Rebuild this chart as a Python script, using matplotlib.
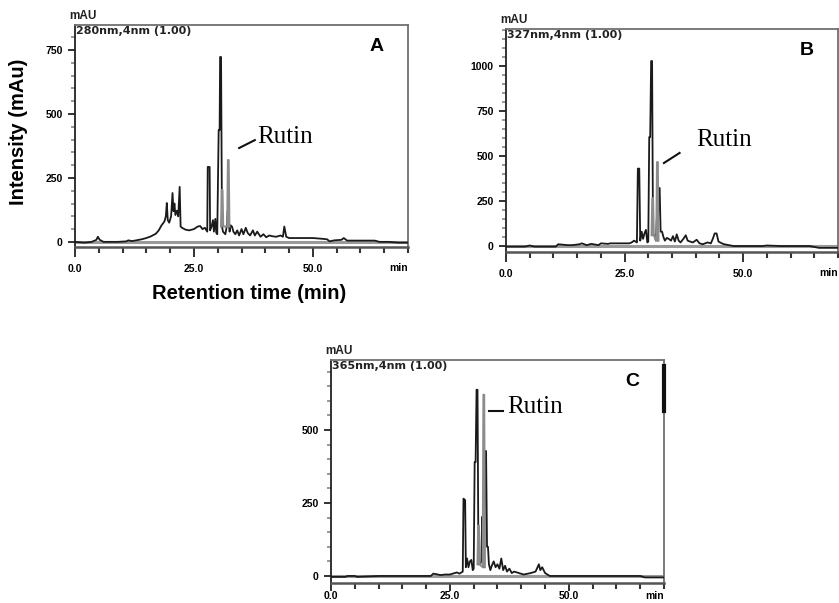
import matplotlib.pyplot as plt
import numpy as np
from matplotlib.ticker import MultipleLocator, FixedLocator

plt.rcParams['font.family'] = ['Liberation Sans', 'DejaVu Sans']

# panel A, 280 nm  (time min, intensity mAU)
a_time = [0, 2, 3.5, 4.5, 4.8, 5.2, 6, 9, 10.8, 11.2, 12, 14, 15, 16, 17, 17.6, 18.2, 18.8,
          19.1, 19.3, 19.5, 19.8, 20.2, 20.5, 20.7, 20.9, 21.1, 21.4, 21.7, 22.0, 22.2, 22.5,
          23.2, 24, 25, 25.8, 26.3, 26.8, 27.3, 27.8, 27.9, 28.3, 28.4, 28.7, 29.0, 29.2, 29.5,
          29.7, 29.9, 30.2, 30.4, 30.5, 30.7, 30.9, 31.1, 31.6, 31.9, 32.1, 32.3, 32.5, 32.7,
          33.0, 33.3, 33.7, 34.1, 34.5, 35.0, 35.4, 35.9, 36.3, 36.8, 37.4, 37.8, 38.3, 39.0,
          39.6, 40.2, 40.8, 41.5, 42.3, 43.2, 43.7, 44.0, 44.4, 45.0, 46, 48, 50, 52, 53, 53.5,
          54.5, 56, 56.5, 57.2, 58, 60, 62, 63, 64, 66, 68, 70]
a_int = [0, -3, 0, 8, 20, 8, 0, 0, 2, 6, 3, 10, 15, 22, 32, 45, 65, 80,
         100, 152, 85, 75, 100, 191, 120, 150, 105, 122, 100, 215, 60, 55,
         48, 45, 50, 60, 62, 50, 55, 40, 293, 293, 45, 60, 85, 40, 90,
         35, 30, 437, 437, 723, 723, 60, 40, 30, 60, 121, 80, 40, 65,
         60, 40, 30, 45, 25, 50, 30, 55, 35, 25, 45, 25, 40, 20,
         30, 18, 25, 22, 20, 25, 20, 60, 20, 15, 15, 15, 15, 12, 10, 2,
         6, 8, 15, 5, 5, 5, 5, 5, 0, 0, -3, -3]
a_grey_time = [30.7, 30.85, 31.0, 31.15, 32.0, 32.15, 32.3, 32.45]
a_grey_int = [60, 203, 203, 60, 60, 320, 320, 60]

# panel B, 327 nm
b_time = [0, 4, 5, 6, 9, 10.5, 11, 13, 14, 15.5, 16, 17, 18, 19.5, 20, 21.5, 22, 25, 26, 26.5,
          27.0, 27.3, 27.6, 27.8, 28.1, 28.3, 28.6, 28.9, 29.2, 29.5, 29.8, 30.0, 30.2, 30.4,
          30.6, 30.8, 31.0, 31.3, 31.6, 31.8, 32.0, 32.2, 32.4, 32.6, 32.9, 33.2, 33.5, 33.9,
          34.3, 34.8, 35.2, 35.6, 36.0, 36.4, 36.8, 37.4, 37.9, 38.3, 38.8, 39.4, 40.2, 40.8,
          41.5, 42.5, 43.2, 43.6, 44.0, 44.4, 44.8, 45.5, 46, 48, 52, 54, 55, 58, 62, 64, 66, 70]
b_int = [-3, -3, 3, -3, -3, -3, 10, 5, 5, 10, 15, 5, 12, 5, 15, 12, 15, 15, 15, 20,
         30, 25, 20, 430, 430, 30, 80, 40, 70, 90, 20, 25, 605, 605,
         1027, 1027, 60, 60, 30, 155, 30, 322, 322, 80, 80, 50, 30, 45,
         40, 30, 55, 25, 65, 30, 20, 40, 60, 30, 25, 20, 35, 15,
         10, 20, 15, 40, 70, 70, 25, 15, 10, 0, 0, 0, 3, 0, 0, 0, -10, -10]
b_grey_time = [30.7, 30.85, 31.0, 31.15, 31.7, 31.85, 32.0, 32.15]
b_grey_int = [60, 265, 265, 60, 30, 466, 466, 30]

# panel C, 365 nm
c_time = [0, 3, 3.5, 5, 5.5, 10, 21, 21.5, 22.5, 23, 24, 25, 26, 26.5, 27, 27.4, 27.7, 27.85,
          28.2, 28.35, 28.6, 28.9, 29.2, 29.5, 29.8, 30.0, 30.2, 30.4, 30.6, 30.8, 31.0, 31.3,
          31.6, 31.8, 32.0, 32.2, 32.4, 32.6, 32.8, 33.0, 33.2, 33.5, 33.8, 34.2, 34.6, 35.0,
          35.4, 35.8, 36.2, 36.6, 37.0, 37.5, 38.0, 38.5, 39.5, 40.5, 42, 43, 43.7, 44.0, 44.4,
          45.0, 46, 48, 55, 60, 65, 66, 70]
c_int = [-3, -3, 0, 0, -3, 0, 0, 8, 5, 3, 5, 5, 10, 12, 8, 12, 15, 265,
         260, 30, 60, 30, 50, 55, 20, 25, 390, 390, 638, 638, 40, 40,
         50, 203, 30, 30, 428, 428, 100, 100, 40, 20, 35, 50, 30, 40,
         25, 60, 20, 35, 15, 25, 10, 15, 10, 5, 10, 15, 40, 20, 30,
         10, 0, 0, 0, 0, 0, -5, -5]
c_grey_time = [30.8, 30.95, 31.1, 31.25, 31.9, 32.05, 32.2, 32.35]
c_grey_int = [40, 172, 172, 40, 30, 621, 621, 30]

panels = [
    dict(t=a_time, y=a_int, gt=a_grey_time, gy=a_grey_int, rect=[0.0894, 0.5904, 0.3969, 0.3681],
         ylim=(-20, 848), yticks=[0, 250, 500, 750], lab='A', nm='280nm,4nm (1.00)',
         rutin=(38.2, 410), line=((34.5, 367), (37.8, 398)), xpad=5, xlen=7, miny=-0.095),
    dict(t=b_time, y=b_int, gt=b_grey_time, gy=b_grey_int, rect=[0.6031, 0.5821, 0.3957, 0.3698],
         ylim=(-33, 1205), yticks=[0, 250, 500, 750, 1000], lab='B', nm='327nm,4nm (1.00)',
         rutin=(40.2, 589), line=((33.3, 461), (36.6, 517)), xpad=5, xlen=7, miny=-0.095),
    dict(t=c_time, y=c_int, gt=c_grey_time, gy=c_grey_int, rect=[0.3945, 0.0332, 0.3969, 0.3698],
         ylim=(-24, 740), yticks=[0, 250, 500], lab='C', nm='365nm,4nm (1.00)',
         rutin=(37.0, 579), line=((33.2, 565), (36.2, 565)), xpad=0.5, xlen=5.5, miny=-0.06),
]

fig = plt.figure(figsize=(8.39, 6.03), dpi=100)

for p in panels:
    ax = fig.add_axes(p['rect'])
    ax.axhline(0, color='#9a9a9a', lw=2.2, zorder=1)
    ax.plot(p['t'], p['y'], color='#1a1a1a', lw=1.3, zorder=3)
    ax.plot(p['gt'], p['gy'], color='#8c8c8c', lw=1.5, zorder=4)
    ax.set_xlim(0, 70)
    ax.set_ylim(*p['ylim'])
    ax.xaxis.set_major_locator(FixedLocator([0, 25, 50]))
    ax.xaxis.set_minor_locator(MultipleLocator(5))
    ax.yaxis.set_major_locator(FixedLocator(p['yticks']))
    ax.yaxis.set_minor_locator(MultipleLocator(50))
    ax.set_xticklabels(['0.0', '25.0', '50.0'], fontsize=7.5, fontweight='bold')
    ax.set_yticklabels([str(v) for v in p['yticks']], fontsize=7.5, fontweight='bold')
    ax.tick_params(which='major', direction='out', length=5, width=1.3, color='#222222', pad=4)
    ax.tick_params(axis='x', which='minor', direction='out', length=4, width=1.5, color='#333333')
    ax.tick_params(axis='y', which='minor', direction='out', length=3, width=1.2, color='#888888')
    ax.tick_params(axis='x', which='major', length=p['xlen'], pad=p['xpad'])
    for s in ['top', 'right']:
        ax.spines[s].set_color('#707070')
        ax.spines[s].set_linewidth(1.3)
    ax.spines['left'].set_color('#222222')
    ax.spines['left'].set_linewidth(1.3)
    ax.spines['bottom'].set_color('#555555')
    ax.spines['bottom'].set_linewidth(1.8)
    ax.text(-0.018, 1.012, 'mAU', transform=ax.transAxes, fontsize=8.5, fontweight='bold',
            ha='left', va='bottom', color='#222222')
    ax.text(0.002, 0.997, p['nm'], transform=ax.transAxes, fontsize=8, fontweight='bold',
            family='DejaVu Sans', ha='left', va='top', color='#222222')
    ax.text(0.905, 0.905, p['lab'], transform=ax.transAxes, fontsize=14, fontweight='bold',
            ha='center', va='center')
    ax.text(p['rutin'][0], p['rutin'][1], 'Rutin', fontsize=18, family='Liberation Serif',
            ha='left', va='center')
    (x0, y0), (x1, y1) = p['line']
    ax.plot([x0, x1], [y0, y1], color='#111111', lw=1.5)
    ax.text(1.0, p['miny'], 'min', transform=ax.transAxes, fontsize=7.5, fontweight='bold',
            ha='right', va='center', clip_on=False)
    if p['lab'] == 'C':
        ax.plot([70, 70], [565, 720], color='#111111', lw=3, clip_on=False, zorder=5)

fig.text(0.0225, 0.781, 'Intensity (mAu)', rotation=90, fontsize=14.5, fontweight='bold',
         ha='center', va='center')
fig.text(0.2974, 0.514, 'Retention time (min)', fontsize=14.5, fontweight='bold',
         ha='center', va='center')

fig.savefig('out.png', dpi=100)
